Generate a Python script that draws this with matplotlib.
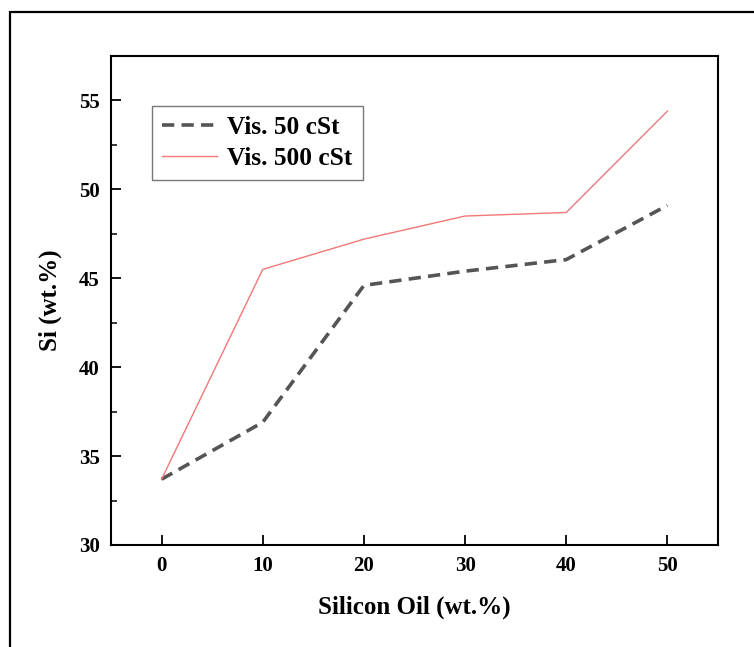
import matplotlib
matplotlib.use("Agg")
import matplotlib.pyplot as plt
from matplotlib.patches import Rectangle

# data
oil_wt = [0, 10, 20, 30, 40, 50]
si_50cst = [33.7, 36.9, 44.6, 45.4, 46.05, 49.1]
si_500cst = [33.7, 45.5, 47.2, 48.5, 48.7, 54.4]
labels = ["Vis. 50 cSt", "Vis. 500 cSt"]

plt.rcParams["font.family"] = ["Liberation Serif", "DejaVu Serif"]
plt.rcParams["font.weight"] = "bold"

W, H = 754, 647
fig = plt.figure(figsize=(W / 100, H / 100), dpi=100)

# outer frame around the whole figure (cut off at right/bottom)
fig.patches.append(Rectangle((10 / W, -0.05), 1.2, (H - 12) / H + 0.05,
                             transform=fig.transFigure, fill=False,
                             edgecolor="black", linewidth=1.6))

ax = fig.add_axes([111 / W, 1 - 545 / H, (718 - 111) / W, (545 - 56) / H])

ax.plot(oil_wt, si_50cst, color="#555555", linewidth=2.6, linestyle=(0, (3.4, 2.0)),
        label=labels[0])
ax.plot(oil_wt, si_500cst, color="#f27878", linewidth=1.0, label=labels[1])

ax.set_xlim(-5, 55)
ax.set_ylim(30, 57.5)
ax.set_xticks([0, 10, 20, 30, 40, 50])
ax.set_yticks([30, 35, 40, 45, 50, 55])
ax.set_yticks([32.5, 37.5, 42.5, 47.5, 52.5], minor=True)
ax.tick_params(axis="both", which="major", direction="in", length=7, width=1.3,
               labelsize=15, pad=8)
ax.tick_params(axis="y", which="minor", direction="in", length=4, width=1.1)
for sp in ax.spines.values():
    sp.set_linewidth(1.5)
for t in ax.get_xticklabels() + ax.get_yticklabels():
    t.set_fontweight("bold")

ax.set_xlabel("Silicon Oil (wt.%)", fontsize=18, fontweight="bold", labelpad=14)
ax.set_ylabel("Si (wt.%)", fontsize=18, fontweight="bold", labelpad=12)

leg = ax.legend(loc="upper left", bbox_to_anchor=(0.068, 0.898), fontsize=18.3,
                frameon=True, fancybox=False, handlelength=2.15, borderpad=0.4,
                labelspacing=0.3, handletextpad=0.4, borderaxespad=0)
leg.get_frame().set_edgecolor("#555555")
leg.get_frame().set_linewidth(1.0)
for t in leg.get_texts():
    t.set_fontweight("bold")

fig.savefig("out.png", dpi=100)
